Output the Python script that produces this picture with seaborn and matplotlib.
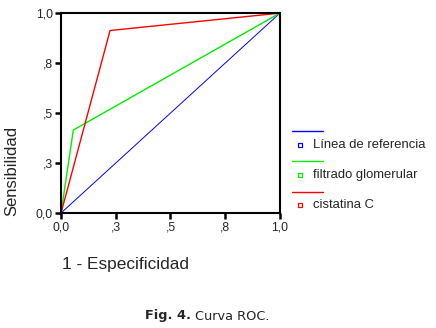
import matplotlib
matplotlib.use("Agg")
import matplotlib.pyplot as plt
import seaborn as sns
import pandas as pd
from matplotlib.lines import Line2D

series_names = ["Línea de referencia", "filtrado glomerular", "cistatina C"]
ref_x = [0.0, 1.0]
ref_y = [0.0, 1.0]
fg_x = [0.0, 0.056, 1.0]
fg_y = [0.0, 0.415, 1.0]
cis_x = [0.0, 0.224, 1.0]
cis_y = [0.0, 0.913, 1.0]
colors = ["#0000ff", "#00ee00", "#ff0000"]
tick_vals = [0.0, 0.25, 0.5, 0.75, 1.0]
tick_labels = ["0,0", ",3", ",5", ",8", "1,0"]

sns.set_style("white")
plt.rcParams["font.family"] = ["Liberation Sans", "DejaVu Sans"]

fig = plt.figure(figsize=(4.36, 3.28), dpi=100)
ax = fig.add_axes([0.140, 0.3506, 0.502, 0.6094])

rows = []
for name, xs, ys in zip(series_names, [ref_x, fg_x, cis_x], [ref_y, fg_y, cis_y]):
    for i, (x, y) in enumerate(zip(xs, ys)):
        rows.append({"x": x, "y": y, "serie": name, "order": i})
df = pd.DataFrame(rows)

for name, col, lw in zip(series_names, colors, [0.7, 1.0, 1.0]):
    sub = df[df["serie"] == name]
    sns.lineplot(data=sub, x="x", y="y", sort=False, color=col, lw=lw, ax=ax,
                 legend=False, estimator=None)

ax.set_xlim(0, 1)
ax.set_ylim(0, 1)
ax.set_xticks(tick_vals)
ax.set_xticklabels(tick_labels)
ax.set_yticks(tick_vals)
ax.set_yticklabels(tick_labels)
ax.tick_params(axis="both", direction="out", length=4, width=1.8, color="black",
               labelsize=8.8, pad=2, bottom=True, left=True)
for s in ax.spines.values():
    s.set_color("black")
    s.set_linewidth(1.5)
ax.set_xlabel("")
ax.set_ylabel("")

fig.text(12 / 436, 1 - 171 / 328, "Sensibilidad", rotation=90, ha="center", va="center", fontsize=12)
fig.text(62 / 436, 1 - 265 / 328, "1 - Especificidad", ha="left", va="center", fontsize=12.4)

# legend (SPSS style: line above, square marker with label below)
line_ys = [131, 161, 192]
sq_ys = [145, 175, 205]
for name, col, ly, sy in zip(series_names, colors, line_ys, sq_ys):
    fig.add_artist(Line2D([292 / 436, 323 / 436], [1 - ly / 328, 1 - ly / 328], color=col, lw=1))
    fig.add_artist(Line2D([300 / 436], [1 - sy / 328], marker="s", markersize=3.5,
                          markerfacecolor="white", markeredgecolor=col, markeredgewidth=0.9, lw=0))
    fig.text(313 / 436, 1 - sy / 328, name, ha="left", va="center", fontsize=9.4)

fig.text(191 / 436, 1 - 316 / 328, "Fig. 4.", ha="right", va="center", fontsize=9.3,
         fontweight="bold", family="DejaVu Sans")
fig.text(195 / 436, 1 - 316 / 328, "Curva ROC.", ha="left", va="center", fontsize=9.3,
         family="DejaVu Sans")

fig.savefig("out.png", dpi=100)
